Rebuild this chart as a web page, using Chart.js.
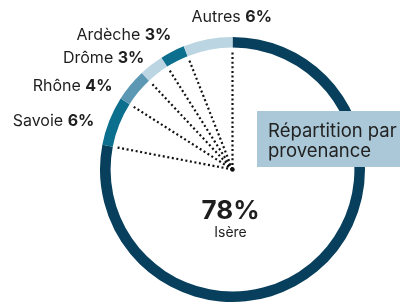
<!DOCTYPE html>
<html>
<head>
<meta charset="utf-8">
<script src="https://cdn.jsdelivr.net/npm/chart.js@4/dist/chart.umd.min.js"></script>
<style>
  body { margin: 0; background: #fff; }
</style>
</head>
<body>
<canvas id="chart" width="400" height="304"></canvas>
<script>
// Data
const regions = ['Isère', 'Savoie', 'Rhône', 'Drôme', 'Ardèche', 'Autres'];
const shares = [78, 6, 4, 3, 3, 6];
const boxLines = ['Répartition par', 'provenance'];

// Styles
const sliceColors = ['#073f5c', '#0c6f8d', '#5c98b3', '#bbd5e2', '#0c6f8d', '#bbd5e2'];
// label nudge from the slice's outer mid point: [dx, dy, align]
const labelNudge = [null, [-15, 0, 'right'], [-18, 1, 'right'], [-7, -7, 'right'], [-1, -16, 'right'], [24, -22, 'center']];
const FONT = 'Inter, "DejaVu Sans", sans-serif';
const TEXT = '#1e1e1e';

// dotted spokes, outside labels, centre figure and the caption box
const decorations = {
  id: 'decorations',
  afterDatasetsDraw(chart) {
    const ctx = chart.ctx;
    const arcs = chart.getDatasetMeta(0).data;
    const cx = arcs[0].x, cy = arcs[0].y;

    ctx.save();
    // spokes
    ctx.strokeStyle = '#111';
    ctx.lineWidth = 2.2;
    ctx.setLineDash([2, 2.6]);
    arcs.forEach(arc => {
      const p = arc.getProps(['startAngle', 'innerRadius']);
      const r = p.innerRadius - 4;
      ctx.beginPath();
      ctx.moveTo(cx, cy);
      ctx.lineTo(cx + r * Math.cos(p.startAngle), cy + r * Math.sin(p.startAngle));
      ctx.stroke();
    });
    ctx.setLineDash([]);
    ctx.fillStyle = '#111';
    ctx.beginPath();
    ctx.arc(cx, cy, 2.2, 0, Math.PI * 2);
    ctx.fill();

    // outside labels
    ctx.textBaseline = 'middle';
    arcs.forEach((arc, i) => {
      if (i === 0) return;
      const p = arc.getProps(['startAngle', 'endAngle', 'outerRadius']);
      const name = regions[i] + ' ';
      const val = shares[i] + '%';
      ctx.font = '16px ' + FONT;
      const wName = ctx.measureText(name).width;
      ctx.font = 'bold 16px ' + FONT;
      const wVal = ctx.measureText(val).width;
      const mid = (p.startAngle + p.endAngle) / 2;
      const [dx, dy, align] = labelNudge[i];
      const ax = cx + p.outerRadius * Math.cos(mid) + dx;
      const y = cy + p.outerRadius * Math.sin(mid) + dy;
      const right = align === 'center' ? ax + (wName + wVal) / 2 : ax;
      ctx.fillStyle = TEXT;
      ctx.textAlign = 'left';
      ctx.font = '16px ' + FONT;
      ctx.fillText(name, right - wVal - wName, y);
      ctx.font = 'bold 16px ' + FONT;
      ctx.fillText(val, right - wVal, y);
    });

    // centre figure
    ctx.textAlign = 'center';
    ctx.fillStyle = TEXT;
    ctx.font = 'bold 26px ' + FONT;
    ctx.fillText(shares[0] + '%', cx - 2, cy + 42);
    ctx.font = '14px ' + FONT;
    ctx.fillText(regions[0], cx - 2, cy + 63);

    // caption box
    ctx.fillStyle = '#abc8d8';
    ctx.fillRect(257, 111, 150, 56);
    ctx.fillStyle = '#222';
    ctx.textAlign = 'left';
    ctx.textBaseline = 'alphabetic';
    ctx.font = '18.5px ' + FONT;
    boxLines.forEach((line, i) => ctx.fillText(line, 268, 137 + i * 20));
    ctx.restore();
  }
};

new Chart(document.getElementById('chart'), {
  type: 'doughnut',
  data: {
    labels: regions,
    datasets: [{
      data: shares,
      backgroundColor: sliceColors,
      borderWidth: 0
    }]
  },
  options: {
    responsive: false,
    animation: false,
    cutout: '92%',
    layout: { padding: { left: 100, right: 35, top: 37, bottom: 2 } },
    plugins: {
      legend: { display: false },
      tooltip: { enabled: false }
    }
  },
  plugins: [decorations]
});
</script>
</body>
</html>
